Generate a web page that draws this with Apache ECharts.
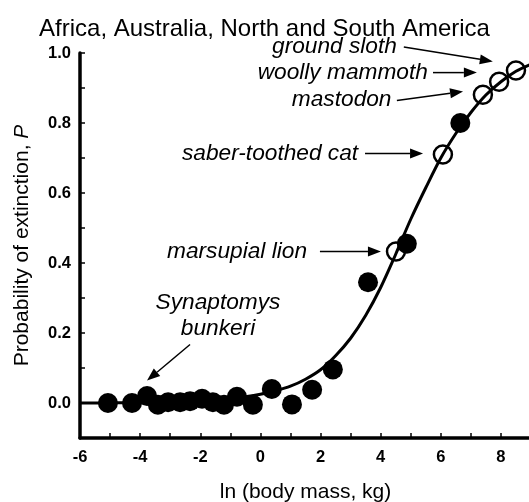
<!DOCTYPE html>
<html>
<head>
<meta charset="utf-8">
<script src="https://cdn.jsdelivr.net/npm/echarts@6/dist/echarts.min.js"></script>
<style>
  html, body { margin: 0; padding: 0; background: #fff; }
  #chart { width: 529px; height: 502px; }
</style>
</head>
<body>
<div id="chart"></div>
<script>
// Extinct / surviving genera: ln(body mass, kg) vs. extinction outcome
const filledX = [-5.07, -4.27, -3.77, -3.41, -3.07, -2.67, -2.34, -1.94, -1.58, -1.21, -0.78, -0.25, 0.38, 1.05, 1.72, 2.41, 3.58, 4.87, 6.65];
const filledY = [0.0, 0.0, 0.02, -0.005, 0.002, 0.002, 0.005, 0.012, 0.002, -0.005, 0.018, -0.005, 0.04, -0.004, 0.038, 0.096, 0.345, 0.455, 0.80];

// Named megafauna (open circles)
const namedSpecies = ['marsupial lion', 'saber-toothed cat', 'mastodon', 'woolly mammoth', 'ground sloth'];
const namedX = [4.51, 6.07, 7.40, 7.94, 8.50];
const namedY = [0.433, 0.71, 0.881, 0.918, 0.95];

// Fitted logistic curve, sampled every 0.5
const fitX = [-6, -5.5, -5, -4.5, -4, -3.5, -3, -2.5, -2, -1.5, -1, -0.5, 0, 0.5, 1, 1.5, 2, 2.5, 3, 3.5, 4, 4.5, 5, 5.5, 6, 6.5, 7, 7.5, 8, 8.5, 9];
const fitY = [0.0, 0.0, 0.001, 0.001, 0.001, 0.002, 0.003, 0.004, 0.006, 0.009, 0.013, 0.018, 0.025, 0.035, 0.048, 0.068, 0.095, 0.135, 0.185, 0.25, 0.33, 0.425, 0.525, 0.615, 0.70, 0.77, 0.83, 0.88, 0.918, 0.948, 0.968];

// Tick labels
const xTickLabels = [-6, -4, -2, 0, 2, 4, 6, 8];
const yTickLabels = [0.0, 0.2, 0.4, 0.6, 0.8, 1.0];

// Callout text with arrow (all in data units)
const annotations = [
  { text: 'ground sloth',      at: [4.54, 1.017], align: 'right',  from: [4.77, 1.017], to: [7.73, 0.976] },
  { text: 'woolly mammoth',    at: [5.57, 0.944], align: 'right',  from: [5.74, 0.944], to: [7.20, 0.944] },
  { text: 'mastodon',          at: [4.36, 0.867], align: 'right',  from: [4.54, 0.864], to: [6.74, 0.890] },
  { text: 'saber-toothed cat', at: [3.25, 0.711], align: 'right',  from: [3.48, 0.713], to: [5.41, 0.713] },
  { text: 'marsupial lion',    at: [1.55, 0.431], align: 'right',  from: [1.98, 0.433], to: [4.01, 0.433] },
  { text: 'Synaptomys\nbunkeri', at: [-1.41, 0.25], align: 'center', from: [-2.34, 0.167], to: [-3.77, 0.064] }
];

const FONT = "'Liberation Sans', Arial, sans-serif";

const chart = echarts.init(document.getElementById('chart'), null, { renderer: 'canvas' });

function renderCallout(params, api) {
  const a = annotations[params.dataIndex];
  const t = api.coord(a.at);
  const p1 = api.coord(a.from);
  const p2 = api.coord(a.to);
  const dx = p2[0] - p1[0], dy = p2[1] - p1[1];
  const len = Math.sqrt(dx * dx + dy * dy);
  const ux = dx / len, uy = dy / len;
  const headLen = 13, headHalf = 5;
  const bx = p2[0] - ux * headLen, by = p2[1] - uy * headLen;
  return {
    type: 'group',
    children: [
      {
        type: 'text',
        style: {
          text: a.text,
          x: t[0], y: t[1],
          align: a.align,
          verticalAlign: 'middle',
          fontStyle: 'italic',
          fontSize: 22.7,
          fontFamily: FONT,
          lineHeight: 26,
          fill: '#000'
        }
      },
      {
        type: 'line',
        shape: { x1: p1[0], y1: p1[1], x2: bx, y2: by },
        style: { stroke: '#000', lineWidth: 1.5 }
      },
      {
        type: 'polygon',
        shape: {
          points: [
            [p2[0], p2[1]],
            [bx - uy * headHalf, by + ux * headHalf],
            [bx + uy * headHalf, by - ux * headHalf]
          ]
        },
        style: { fill: '#000' }
      }
    ]
  };
}

const option = {
  animation: false,
  backgroundColor: '#fff',
  title: {
    text: 'Africa, Australia, North and South America',
    left: 'center',
    top: 12,
    textStyle: { fontFamily: FONT, fontSize: 24, fontWeight: 'normal', color: '#000' }
  },
  grid: { left: 80, right: -2, top: 53, bottom: 64, containLabel: false, outerBoundsMode: 'none' },
  xAxis: {
    type: 'value',
    min: -6, max: 9, interval: 1,
    name: 'ln (body mass, kg)',
    nameLocation: 'middle',
    nameGap: 44,
    nameTextStyle: { fontFamily: FONT, fontSize: 21, color: '#000' },
    axisLine: { onZero: false, lineStyle: { color: '#000', width: 3.5 } },
    axisTick: { inside: true, length: 5, lineStyle: { color: '#000', width: 1.5 } },
    axisLabel: {
      margin: 11,
      fontFamily: FONT, fontSize: 16.5, fontWeight: 'bold', color: '#000',
      formatter: v => xTickLabels.includes(Math.round(v)) && Math.abs(v - Math.round(v)) < 1e-6 ? String(Math.round(v)) : ''
    },
    splitLine: { show: false }
  },
  yAxis: {
    type: 'value',
    min: -0.1, max: 1.0, interval: 0.1,
    name: 'Probability of extinction, {i|P}',
    nameLocation: 'middle',
    nameGap: 47,
    nameTextStyle: {
      fontFamily: FONT, fontSize: 21, color: '#000',
      rich: { i: { fontFamily: FONT, fontSize: 21, fontStyle: 'italic', color: '#000' } }
    },
    axisLine: { onZero: false, lineStyle: { color: '#000', width: 3.5 } },
    axisTick: { inside: true, length: 5, lineStyle: { color: '#000', width: 1.5 } },
    axisLabel: {
      margin: 9,
      fontFamily: FONT, fontSize: 16.5, fontWeight: 'bold', color: '#000',
      formatter: v => {
        const hit = yTickLabels.find(t => Math.abs(t - v) < 1e-6);
        return hit === undefined ? '' : hit.toFixed(1);
      }
    },
    splitLine: { show: false }
  },
  series: [
    {
      name: 'fit',
      type: 'line',
      data: fitX.map((x, i) => [x, fitY[i]]),
      smooth: 0.3,
      showSymbol: false,
      lineStyle: { color: '#000', width: 3 },
      clip: false,
      z: 3
    },
    {
      name: 'genera',
      type: 'scatter',
      data: filledX.map((x, i) => [x, filledY[i]]),
      symbol: 'circle',
      symbolSize: 20,
      itemStyle: { color: '#000', opacity: 1 },
      clip: false,
      z: 2
    },
    {
      name: 'named',
      type: 'scatter',
      data: namedX.map((x, i) => ({ name: namedSpecies[i], value: [x, namedY[i]] })),
      symbol: 'circle',
      symbolSize: 18,
      itemStyle: { color: 'rgba(255,255,255,0)', borderColor: '#000', borderWidth: 2.5, opacity: 1 },
      clip: false,
      z: 4
    },
    {
      name: 'callouts',
      type: 'custom',
      renderItem: renderCallout,
      data: annotations.map(a => a.to),
      clip: false,
      silent: true,
      z: 5
    }
  ]
};

chart.setOption(option);
</script>
</body>
</html>
